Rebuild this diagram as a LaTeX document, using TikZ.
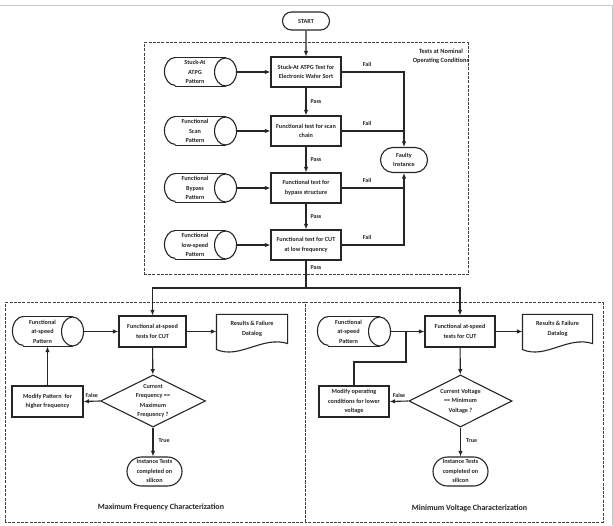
\documentclass[tikz,border=0pt]{standalone}
\usepackage{fontspec}
\setmainfont{Carlito}
\usetikzlibrary{arrows.meta,shapes.misc,shapes.geometric,calc}
\newcommand\drawcyl[2]{%
  \fill[white] ($(#1.north west)+(11pt,0)$) -- (#1.north east) -- (#1.south east) -- ($(#1.south west)+(11pt,0)$) arc[start angle=270,end angle=90,x radius=11pt,y radius=#2] -- cycle;
  \draw ($(#1.north west)+(11pt,0)$) -- (#1.north east);
  \draw ($(#1.south west)+(11pt,0)$) -- (#1.south east);
  \draw ($(#1.north west)+(11pt,0)$) arc[start angle=90,end angle=270,x radius=11pt,y radius=#2];
  \draw[fill=white] (#1.east) ellipse[x radius=11pt,y radius=#2];
}
\newcommand\drawdoc[1]{%
  \draw (#1.north west) -- (#1.north east) -- (#1.south east)
    .. controls ($(#1.south east)+(-25pt,8pt)$) and ($(#1.south west)+(23pt,-16pt)$) .. ($(#1.south west)+(0,-6pt)$) -- cycle;
}
\begin{document}
\begin{tikzpicture}[x=1pt,y=1pt,
  line width=1.1pt, draw=black!85,
  >={Latex[length=5.5pt,width=4.5pt]},
  every node/.style={font=\fontsize{6.2}{9.5}\selectfont\bfseries, align=center, inner sep=0pt, text=black!85},
  proc/.style={draw, rectangle, minimum width=70, minimum height=30},
  term/.style={draw, rounded rectangle, minimum width=47, minimum height=25},
  cylb/.style={rectangle, minimum width=60, minimum height=28},
  docb/.style={rectangle, minimum width=70, minimum height=28},
  lbl/.style={font=\fontsize{6}{7}\selectfont\bfseries},
  region/.style={draw=black!75, dash pattern=on 3pt off 1.3pt, line width=1pt},
  ttl/.style={font=\fontsize{8}{9}\selectfont\bfseries}
]
\useasboundingbox (0,0) rectangle (613,525);
\fill[white] (0,0) rectangle (613,525);
\draw[gray!45, line width=1pt] (0,519) -- (612,519) -- (612,0);

% regions
\draw[region] (144,250) rectangle (468,482);
\draw[region] (5,3) rectangle (305,222);
\draw[region] (305,3) rectangle (603,222);
\node[font=\fontsize{6.4}{9}\selectfont\bfseries] (nom) at (441,468.5) {Tests at Nominal\\Operating Conditions};

% top part
\node[term, minimum height=18] (start) at (306,504) {START};
\node[proc] (b1) at (306,453) {Stuck-At ATPG Test for\\Electronic Wafer Sort};
\node[proc] (b2) at (306,394) {Functional test for scan\\chain};
\node[proc] (b3) at (306,337) {Functional test for\\bypass structure};
\node[proc] (b4) at (306,280) {Functional test for CUT\\at low frequency};
\node[cylb] (c1) at (195,453) {};
\node[cylb] (c2) at (195,394) {};
\node[cylb] (c3) at (195,337) {};
\node[cylb] (c4) at (195,280) {};
\drawcyl{c1}{14pt}\drawcyl{c2}{14pt}\drawcyl{c3}{14pt}\drawcyl{c4}{14pt}
\node at (c1) {Stuck-At\\ATPG\\Pattern};
\node at (c2) {Functional\\Scan\\Pattern};
\node at (c3) {Functional\\Bypass\\Pattern};
\node at (c4) {Functional\\low-speed\\Pattern};
\node[term] (fi) at (404,365) {Faulty\\Instance};

\draw[->] (start) -- (b1);
\draw[->] ([xshift=11pt]c1.east) -- (b1.west);
\draw[->] ([xshift=11pt]c2.east) -- (b2.west);
\draw[->] ([xshift=11pt]c3.east) -- (b3.west);
\draw[->] ([xshift=11pt]c4.east) -- (b4.west);
\draw[->] (b1) -- node[lbl, right=4pt]{Pass} (b2);
\draw[->] (b2) -- node[lbl, right=4pt]{Pass} (b3);
\draw[->] (b3) -- node[lbl, right=4pt]{Pass} (b4);
\draw[->] (b1.east) -| (fi.north);
\draw (b2.east) -- (b2.east -| fi.north);
\draw (b3.east) -- (b3.east -| fi.south);
\draw[->] (b4.east) -| (fi.south);
\node[lbl] (f1) at (367,461) {Fail};
\node[lbl] (f2) at (367,402) {Fail};
\node[lbl] (f3) at (367,345) {Fail};
\node[lbl] (f4) at (367,288) {Fail};
\coordinate (j) at (306,237);
\draw (b4.south) -- node[lbl, right=4pt, pos=0.25]{Pass} (j);

% left section
\node[proc, minimum width=67, minimum height=31] (bL) at (152.5,193.5) {Functional at-speed\\tests for CUT};
\node[cylb, minimum width=59, minimum height=29] (cL) at (42.5,193.5) {};
\drawcyl{cL}{14.5pt}
\node at (cL) {Functional\\at-speed\\Pattern};
\node[docb] (dcL) at (252,196) {Results \& Failure\\Datalog};
\drawdoc{dcL}
\node[diamond, draw, minimum width=105, minimum height=52] (dL) at (153,124) {};
\node (dLt) at (153,124) {Current\\Frequency ==\\Maximum\\Frequency ?};
\node[proc, minimum width=71, minimum height=31] (mL) at (47.5,123.5) {Modify Pattern\ \ for\\higher frequency};
\node[term, minimum width=55, minimum height=29] (iL) at (154.5,53.5) {Instance Tests\\completed on\\silicon};
\node[ttl] (tL) at (161,18) {Maximum Frequency Characterization};

\draw[->] (j) -| (bL.north);
\draw[->] ([xshift=11pt]cL.east) -- (bL.west);
\draw[->] (bL.east) -- (dcL.west |- bL.east);
\draw[->] (bL) -- (dL);
\draw[->] (dL.west) -- node[lbl, above=3pt]{False} (mL.east);
\draw[->] (mL.north) -- (mL.north |- cL.south);
\draw[->] (dL.south) -- node[lbl, right=5pt, pos=0.45]{True} (iL.north -| dL.south);

% right section
\node[proc, minimum width=70, minimum height=31] (bR) at (460,193.5) {Functional at-speed\\tests for CUT};
\node[cylb, minimum width=61, minimum height=29] (cR) at (348.5,193.5) {};
\drawcyl{cR}{14.5pt}
\node at (cR) {Functional\\at-speed\\Pattern};
\node[docb, minimum width=69] (dcR) at (557.5,196) {Results \& Failure\\Datalog};
\drawdoc{dcR}
\node[diamond, draw, minimum width=103, minimum height=52] (dR) at (460.5,124) {};
\node (dRt) at (460.5,124) {Current Voltage\\== Minimum\\Voltage ?};
\node[proc, minimum width=70, minimum height=31] (mR) at (354,123.5) {Modify operating\\conditions for lower\\voltage};
\node[term, minimum width=55, minimum height=29] (iR) at (460.5,53.5) {Instance Tests\\completed on\\silicon};
\node[ttl] (tR) at (469.5,17) {Minimum Voltage Characterization};
\coordinate (lr) at (406,163);

\draw[->] (j) -| (bR.north);
\draw[->] ([xshift=11pt]cR.east) -- (bR.west);
\draw[->] (bR.east) -- (dcR.west |- bR.east);
\draw[->] (bR) -- (dR);
\draw[->] (dR.west) -- node[lbl, above=3pt]{False} (mR.east);
\draw (mR.north) |- (lr) -- (lr |- bR.west);
\draw[->] (dR.south) -- node[lbl, right=5pt, pos=0.45]{True} (iR.north -| dR.south);
\end{tikzpicture}
\end{document}
